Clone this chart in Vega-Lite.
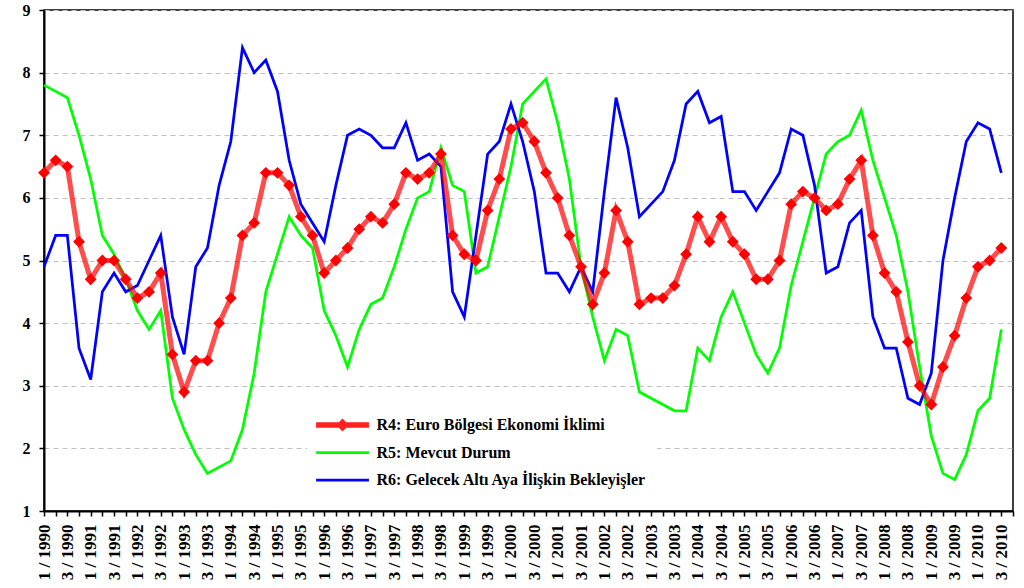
{
  "$schema": "https://vega.github.io/schema/vega-lite/v6.json",
  "width": 969,
  "height": 501,
  "autosize": {"type": "none"},
  "padding": {"left": 44, "top": 10, "right": 11, "bottom": 77},
  "background": "white",
  "config": {
    "font": "Liberation Serif",
    "view": {"stroke": "#000000", "strokeWidth": 1.5},
    "axis": {
      "domainColor": "#000000",
      "domainWidth": 2,
      "tickColor": "#000000",
      "tickWidth": 1.5,
      "tickSize": 5,
      "labelColor": "#000000",
      "labelFont": "Liberation Serif",
      "labelFontWeight": "bold",
      "title": null
    }
  },
  "data": {
    "values": [
      {"p": "1 / 1990", "r4": 6.4, "r5": 7.8, "r6": 4.9},
      {"p": "2 / 1990", "r4": 6.6, "r5": 7.7, "r6": 5.4},
      {"p": "3 / 1990", "r4": 6.5, "r5": 7.6, "r6": 5.4},
      {"p": "4 / 1990", "r4": 5.3, "r5": 7.0, "r6": 3.6},
      {"p": "1 / 1991", "r4": 4.7, "r5": 6.3, "r6": 3.1},
      {"p": "2 / 1991", "r4": 5.0, "r5": 5.4, "r6": 4.5},
      {"p": "3 / 1991", "r4": 5.0, "r5": 5.1, "r6": 4.8},
      {"p": "4 / 1991", "r4": 4.7, "r5": 4.7, "r6": 4.5},
      {"p": "1 / 1992", "r4": 4.4, "r5": 4.2, "r6": 4.6},
      {"p": "2 / 1992", "r4": 4.5, "r5": 3.9, "r6": 5.0},
      {"p": "3 / 1992", "r4": 4.8, "r5": 4.2, "r6": 5.4},
      {"p": "4 / 1992", "r4": 3.5, "r5": 2.8, "r6": 4.1},
      {"p": "1 / 1993", "r4": 2.9, "r5": 2.3, "r6": 3.5},
      {"p": "2 / 1993", "r4": 3.4, "r5": 1.9, "r6": 4.9},
      {"p": "3 / 1993", "r4": 3.4, "r5": 1.6, "r6": 5.2},
      {"p": "4 / 1993", "r4": 4.0, "r5": 1.7, "r6": 6.2},
      {"p": "1 / 1994", "r4": 4.4, "r5": 1.8, "r6": 6.9},
      {"p": "2 / 1994", "r4": 5.4, "r5": 2.3, "r6": 8.4},
      {"p": "3 / 1994", "r4": 5.6, "r5": 3.2, "r6": 8.0},
      {"p": "4 / 1994", "r4": 6.4, "r5": 4.5, "r6": 8.2},
      {"p": "1 / 1995", "r4": 6.4, "r5": 5.1, "r6": 7.7},
      {"p": "2 / 1995", "r4": 6.2, "r5": 5.7, "r6": 6.6},
      {"p": "3 / 1995", "r4": 5.7, "r5": 5.4, "r6": 5.9},
      {"p": "4 / 1995", "r4": 5.4, "r5": 5.2, "r6": 5.6},
      {"p": "1 / 1996", "r4": 4.8, "r5": 4.2, "r6": 5.3},
      {"p": "2 / 1996", "r4": 5.0, "r5": 3.8, "r6": 6.2},
      {"p": "3 / 1996", "r4": 5.2, "r5": 3.3, "r6": 7.0},
      {"p": "4 / 1996", "r4": 5.5, "r5": 3.9, "r6": 7.1},
      {"p": "1 / 1997", "r4": 5.7, "r5": 4.3, "r6": 7.0},
      {"p": "2 / 1997", "r4": 5.6, "r5": 4.4, "r6": 6.8},
      {"p": "3 / 1997", "r4": 5.9, "r5": 4.9, "r6": 6.8},
      {"p": "4 / 1997", "r4": 6.4, "r5": 5.5, "r6": 7.2},
      {"p": "1 / 1998", "r4": 6.3, "r5": 6.0, "r6": 6.6},
      {"p": "2 / 1998", "r4": 6.4, "r5": 6.1, "r6": 6.7},
      {"p": "3 / 1998", "r4": 6.7, "r5": 6.8, "r6": 6.5},
      {"p": "4 / 1998", "r4": 5.4, "r5": 6.2, "r6": 4.5},
      {"p": "1 / 1999", "r4": 5.1, "r5": 6.1, "r6": 4.1},
      {"p": "2 / 1999", "r4": 5.0, "r5": 4.8, "r6": 5.4},
      {"p": "3 / 1999", "r4": 5.8, "r5": 4.9, "r6": 6.7},
      {"p": "4 / 1999", "r4": 6.3, "r5": 5.7, "r6": 6.9},
      {"p": "1 / 2000", "r4": 7.1, "r5": 6.5, "r6": 7.5},
      {"p": "2 / 2000", "r4": 7.2, "r5": 7.5, "r6": 6.9},
      {"p": "3 / 2000", "r4": 6.9, "r5": 7.7, "r6": 6.1},
      {"p": "4 / 2000", "r4": 6.4, "r5": 7.9, "r6": 4.8},
      {"p": "1 / 2001", "r4": 6.0, "r5": 7.2, "r6": 4.8},
      {"p": "2 / 2001", "r4": 5.4, "r5": 6.3, "r6": 4.5},
      {"p": "3 / 2001", "r4": 4.9, "r5": 4.9, "r6": 4.9},
      {"p": "4 / 2001", "r4": 4.3, "r5": 4.1, "r6": 4.5},
      {"p": "1 / 2002", "r4": 4.8, "r5": 3.4, "r6": 6.1},
      {"p": "2 / 2002", "r4": 5.8, "r5": 3.9, "r6": 7.6},
      {"p": "3 / 2002", "r4": 5.3, "r5": 3.8, "r6": 6.8},
      {"p": "4 / 2002", "r4": 4.3, "r5": 2.9, "r6": 5.7},
      {"p": "1 / 2003", "r4": 4.4, "r5": 2.8, "r6": 5.9},
      {"p": "2 / 2003", "r4": 4.4, "r5": 2.7, "r6": 6.1},
      {"p": "3 / 2003", "r4": 4.6, "r5": 2.6, "r6": 6.6},
      {"p": "4 / 2003", "r4": 5.1, "r5": 2.6, "r6": 7.5},
      {"p": "1 / 2004", "r4": 5.7, "r5": 3.6, "r6": 7.7},
      {"p": "2 / 2004", "r4": 5.3, "r5": 3.4, "r6": 7.2},
      {"p": "3 / 2004", "r4": 5.7, "r5": 4.1, "r6": 7.3},
      {"p": "4 / 2004", "r4": 5.3, "r5": 4.5, "r6": 6.1},
      {"p": "1 / 2005", "r4": 5.1, "r5": 4.0, "r6": 6.1},
      {"p": "2 / 2005", "r4": 4.7, "r5": 3.5, "r6": 5.8},
      {"p": "3 / 2005", "r4": 4.7, "r5": 3.2, "r6": 6.1},
      {"p": "4 / 2005", "r4": 5.0, "r5": 3.6, "r6": 6.4},
      {"p": "1 / 2006", "r4": 5.9, "r5": 4.6, "r6": 7.1},
      {"p": "2 / 2006", "r4": 6.1, "r5": 5.3, "r6": 7.0},
      {"p": "3 / 2006", "r4": 6.0, "r5": 6.0, "r6": 6.2},
      {"p": "4 / 2006", "r4": 5.8, "r5": 6.7, "r6": 4.8},
      {"p": "1 / 2007", "r4": 5.9, "r5": 6.9, "r6": 4.9},
      {"p": "2 / 2007", "r4": 6.3, "r5": 7.0, "r6": 5.6},
      {"p": "3 / 2007", "r4": 6.6, "r5": 7.4, "r6": 5.8},
      {"p": "4 / 2007", "r4": 5.4, "r5": 6.6, "r6": 4.1},
      {"p": "1 / 2008", "r4": 4.8, "r5": 6.0, "r6": 3.6},
      {"p": "2 / 2008", "r4": 4.5, "r5": 5.4, "r6": 3.6},
      {"p": "3 / 2008", "r4": 3.7, "r5": 4.5, "r6": 2.8},
      {"p": "4 / 2008", "r4": 3.0, "r5": 3.3, "r6": 2.7},
      {"p": "1 / 2009", "r4": 2.7, "r5": 2.2, "r6": 3.2},
      {"p": "2 / 2009", "r4": 3.3, "r5": 1.6, "r6": 5.0},
      {"p": "3 / 2009", "r4": 3.8, "r5": 1.5, "r6": 6.0},
      {"p": "4 / 2009", "r4": 4.4, "r5": 1.9, "r6": 6.9},
      {"p": "1 / 2010", "r4": 4.9, "r5": 2.6, "r6": 7.2},
      {"p": "2 / 2010", "r4": 5.0, "r5": 2.8, "r6": 7.1},
      {"p": "3 / 2010", "r4": 5.2, "r5": 3.9, "r6": 6.4}
    ]
  },
  "encoding": {
    "x": {
      "field": "p",
      "type": "ordinal",
      "sort": null,
      "scale": {
        "type": "point",
        "padding": 0,
        "domain": [
          "1 / 1990","2 / 1990","3 / 1990","4 / 1990",
          "1 / 1991","2 / 1991","3 / 1991","4 / 1991",
          "1 / 1992","2 / 1992","3 / 1992","4 / 1992",
          "1 / 1993","2 / 1993","3 / 1993","4 / 1993",
          "1 / 1994","2 / 1994","3 / 1994","4 / 1994",
          "1 / 1995","2 / 1995","3 / 1995","4 / 1995",
          "1 / 1996","2 / 1996","3 / 1996","4 / 1996",
          "1 / 1997","2 / 1997","3 / 1997","4 / 1997",
          "1 / 1998","2 / 1998","3 / 1998","4 / 1998",
          "1 / 1999","2 / 1999","3 / 1999","4 / 1999",
          "1 / 2000","2 / 2000","3 / 2000","4 / 2000",
          "1 / 2001","2 / 2001","3 / 2001","4 / 2001",
          "1 / 2002","2 / 2002","3 / 2002","4 / 2002",
          "1 / 2003","2 / 2003","3 / 2003","4 / 2003",
          "1 / 2004","2 / 2004","3 / 2004","4 / 2004",
          "1 / 2005","2 / 2005","3 / 2005","4 / 2005",
          "1 / 2006","2 / 2006","3 / 2006","4 / 2006",
          "1 / 2007","2 / 2007","3 / 2007","4 / 2007",
          "1 / 2008","2 / 2008","3 / 2008","4 / 2008",
          "1 / 2009","2 / 2009","3 / 2009","4 / 2009",
          "1 / 2010","2 / 2010","3 / 2010","4 / 2010"
        ]
      },
      "axis": {
        "labelAngle": 270,
        "labelFontSize": 17,
        "labelPadding": 8,
        "labelOverlap": false,
        "labelBound": false,
        "labelFlush": false,
        "labelLimit": 0,
        "grid": false,
        "labelExpr": "(indexof(datum.label, '1 /') == 0 || indexof(datum.label, '3 /') == 0) ? datum.label : ''"
      }
    }
  },
  "layer": [
    {
      "mark": {"type": "line", "strokeWidth": 2.75},
      "encoding": {
        "y": {
          "field": "r5",
          "type": "quantitative",
          "scale": {"domain": [1, 9], "nice": false, "zero": false},
          "axis": {
            "values": [1, 2, 3, 4, 5, 6, 7, 8, 9],
            "format": "d",
            "labelFontSize": 16,
            "labelPadding": 9,
            "grid": true,
            "gridColor": "#c0c0c0",
            "gridDash": [5, 4],
            "gridWidth": 1
          }
        },
        "color": {
          "datum": "R5: Mevcut Durum",
          "type": "nominal",
          "scale": {
            "domain": ["R4: Euro Bölgesi Ekonomi İklimi", "R5: Mevcut Durum", "R6: Gelecek Altı Aya İlişkin Bekleyişler"],
            "range": ["#ff0000", "#00ff00", "#0000ff"]
          },
          "legend": {
            "title": null,
            "orient": "none",
            "legendX": 263,
            "legendY": 397,
            "padding": 10,
            "fillColor": "white",
            "strokeColor": null,
            "labelFont": "Liberation Serif",
            "labelFontWeight": "bold",
            "labelFontSize": 16,
            "labelColor": "#000000",
            "labelLimit": 0,
            "rowPadding": 11.5,
            "symbolSize": 256,
            "symbolOffset": 17.5,
            "labelOffset": 26,
            "symbolStrokeWidth": 2.75,
            "encode": {
              "symbols": {
                "update": {
                  "shape": {"signal": "datum.index === 0 ? 'M-3.3,-0.33L3.3,-0.33L3.3,0.33L-3.3,0.33Z M0,-0.8L0.8,0L0,0.8L-0.8,0Z' : 'M-3.3,0L3.3,0'"},
                  "fill": {"signal": "datum.index === 0 ? '#ff2020' : 'transparent'"},
                  "stroke": {"signal": "datum.index === 0 ? 'transparent' : (datum.index === 1 ? '#00ff00' : '#0000ff')"},
                  "strokeWidth": {"signal": "datum.index === 0 ? 0 : 2.75"},
                  "opacity": {"value": 1}
                }
              }
            }
          }
        }
      }
    },
    {
      "mark": {"type": "line", "strokeWidth": 2.75},
      "encoding": {
        "y": {"field": "r6", "type": "quantitative"},
        "color": {"datum": "R6: Gelecek Altı Aya İlişkin Bekleyişler", "type": "nominal"}
      }
    },
    {
      "mark": {"type": "line", "strokeWidth": 5, "strokeOpacity": 0.7},
      "encoding": {
        "y": {"field": "r4", "type": "quantitative"},
        "color": {"datum": "R4: Euro Bölgesi Ekonomi İklimi", "type": "nominal"}
      }
    },
    {
      "mark": {"type": "point", "shape": "diamond", "filled": true, "size": 140, "opacity": 1, "color": "#ff0000"},
      "encoding": {
        "y": {"field": "r4", "type": "quantitative"}
      }
    }
  ]
}
